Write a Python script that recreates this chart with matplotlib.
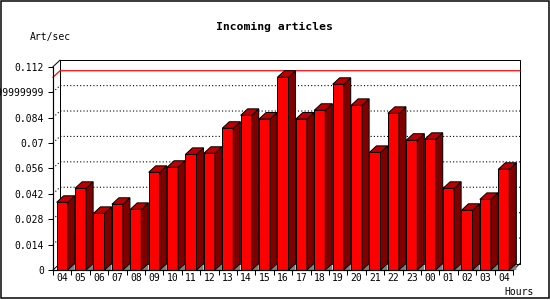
"""
Incoming articles per hour, drawn as a JpGraph style 3D bar chart
"""
import matplotlib
matplotlib.use("Agg")
import matplotlib.pyplot as plt
from matplotlib.patches import Polygon, Rectangle

HOURS = ["04", "05", "06", "07", "08", "09", "10", "11", "12", "13", "14", "15",
         "16", "17", "18", "19", "20", "21", "22", "23", "00", "01", "02", "03", "04"]
RATES = [0.0373, 0.0450, 0.0312, 0.0362, 0.0334, 0.0538, 0.0566, 0.0637, 0.0643,
         0.0781, 0.0852, 0.0832, 0.1062, 0.0832, 0.0880, 0.1023, 0.0907, 0.0648,
         0.0863, 0.0715, 0.0720, 0.0450, 0.0329, 0.0389, 0.0555]
Y_TICKS = [0, 0.014, 0.028, 0.042, 0.056, 0.07, 0.084, 0.098, 0.112]
Y_LABELS = ["0", "0.014", "0.028", "0.042", "0.056", "0.07", "0.084",
            "0.09799999999", "0.112"]

W, H = 550, 300
PX = 0.72  # one pixel in points at dpi 100
MONO = "DejaVu Sans Mono"


def main():
    fig = plt.figure(figsize=(W / 100, H / 100), dpi=100)
    # front plane of the plot, in pixels: x 53..513, y 66.7..270
    ax = fig.add_axes([53 / W, 30 / H, 460 / W, 203.3 / H])
    n = len(RATES)
    ymax = Y_TICKS[-1]
    ax.set_xlim(0, n)
    ax.set_ylim(0, ymax)

    # 3D depth: 7 px right, 6.5 px up
    dx = 7 / (460 / n)
    dy = 6.5 * ymax / 203.3

    # back plane + grid
    ax.add_patch(Rectangle((dx, dy), n, ymax, fill=False, ec="black",
                           lw=PX, clip_on=False, zorder=1))
    for v in Y_TICKS[1:-1]:
        ax.plot([0, dx, n + dx], [v, v + dy, v + dy], color="black",
                lw=PX * 1.1, ls=(0, (1, 2)), clip_on=False, zorder=1)
    for x0 in (0, n):
        ax.plot([x0, x0 + dx], [0, dy], color="black", lw=PX, clip_on=False, zorder=1)
    ax.plot([0, dx], [ymax, ymax + dy], color="black", lw=PX, clip_on=False, zorder=1)

    # max line
    peak = max(RATES)
    ax.plot([0, dx, n + dx], [peak, peak + dy, peak + dy], color="red",
            lw=PX * 1.2, clip_on=False, zorder=1.5)

    # bars
    width = 0.6
    centers = [i + 0.5 for i in range(n)]
    ax.bar(centers, RATES, width=width, color="#ff0000", edgecolor="black",
           linewidth=PX, zorder=3)
    for c, v in zip(centers, RATES):
        xr = c + width / 2
        xl = c - width / 2
        ax.add_patch(Polygon([(xr, 0), (xr + dx, dy), (xr + dx, 0)], closed=True,
                             fc="#808080", ec="none", zorder=2, clip_on=False))
        ax.add_patch(Polygon([(xr, 0), (xr + dx, dy), (xr + dx, v + dy), (xr, v)],
                             closed=True, fc="#800000", ec="black", lw=PX,
                             zorder=3, clip_on=False))
        ax.add_patch(Polygon([(xl, v), (xl + dx, v + dy), (xr + dx, v + dy), (xr, v)],
                             closed=True, fc="#c00000", ec="black", lw=PX,
                             zorder=3, clip_on=False))

    # axes
    for side in ("top", "right"):
        ax.spines[side].set_visible(False)
    for side in ("left", "bottom"):
        ax.spines[side].set_linewidth(PX * 1.2)
        ax.spines[side].set_zorder(4)
    ax.set_facecolor("none")
    ax.set_yticks(Y_TICKS)
    ax.set_yticklabels(Y_LABELS, fontfamily=MONO, fontsize=7)
    ax.tick_params(axis="y", length=5 * PX, width=PX, pad=3)
    ax.set_xticks(range(n + 1))
    ax.set_xticklabels([])
    ax.set_xticks(centers, minor=True)
    ax.set_xticklabels(HOURS, minor=True, fontfamily=MONO, fontsize=7)
    ax.tick_params(axis="x", which="major", length=5 * PX, width=PX)
    ax.tick_params(axis="x", which="minor", length=0, pad=2)

    fig.text(274 / W, 1 - 27 / H, "Incoming articles", ha="center", va="center",
             fontfamily=MONO, fontweight="bold", fontsize=8.2)
    fig.text(30 / W, 1 - 37 / H, "Art/sec", ha="left", va="center",
             fontfamily=MONO, fontsize=7)
    fig.text(534 / W, 1 - 292 / H, "Hours", ha="right", va="center",
             fontfamily=MONO, fontsize=7)

    # outer frame
    fig.add_artist(Rectangle((0.5 / W, 1 - 297.5 / H), 548 / W, 297 / H,
                             transform=fig.transFigure, fill=False,
                             ec="black", lw=PX * 1.5))

    fig.savefig("out.png", dpi=100)
    plt.close(fig)


if __name__ == "__main__":
    main()
